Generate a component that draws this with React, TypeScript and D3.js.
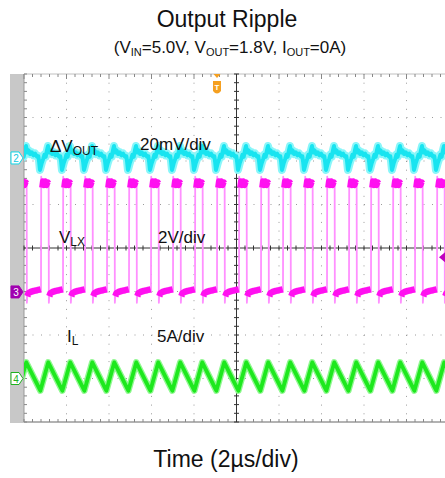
import React from "react";
import * as d3 from "d3";

// rising edges of the switch node (µs from left edge of screen)
const pulseStarts = [-0.235, 0.8, 1.835, 2.871, 3.906, 4.941, 5.976, 7.012, 8.047, 9.082,
  10.118, 11.153, 12.188, 13.224, 14.259, 15.294, 16.329, 17.365, 18.4, 19.435, 20.47];

// one switching period of each trace: [µs after rising edge, value]
const vlxShape = [
  [0.0, 0.0], [0.01, 5.3], [0.04, 4.8], [0.08, 5.1], [0.14, 4.9], [0.2, 5.1], [0.27, 4.9],
  [0.33, 5.05], [0.36, 5.0], [0.37, -0.5], [0.39, -0.2], [0.45, -0.05], [0.55, 0.0],
  [0.7, 0.05], [0.85, 0.08], [1.02, 0.12],
];
const voutShape = [
  [-0.05, -5.5], [0.03, -2.5], [0.1, -0.5], [0.16, 1.5], [0.22, 0.5], [0.28, 3.5], [0.33, 5.5],
  [0.38, 2.5], [0.45, 3.5], [0.52, 1.8], [0.6, 2.6], [0.68, 1.2], [0.76, 2.0], [0.84, 0.6],
  [0.91, 0.8], [0.95, -2.0],
];
const ilShape = [[-0.03, -1.4], [0.34, 1.85]];

const W = 445;
const left = 24, top = 74, bottom = 422;
const x = d3.scaleLinear().domain([0, 20]).range([left, left + 425]);
const yDiv = d3.scaleLinear().domain([-4, 4]).range([bottom, top]);

// channel offsets (div) and scales (units/div)
const ch2 = { off: 2.07, per: 20 };
const ch3 = { off: -1.01, per: 2 };
const ch4 = { off: -3.0, per: 5 };
const yOf = (ch: { off: number; per: number }) => (v: number) => yDiv(ch.off + v / ch.per);

const repeat = (shape: number[][], lo = -Infinity, hi = Infinity) =>
  pulseStarts.map((t0) => shape.filter(([dt]) => dt >= lo && dt <= hi).map(([dt, v]) => [t0 + dt, v]));

const majorX = d3.range(0, 11).map((i) => i * 2);
const majorY = d3.range(-4, 5);
const minorX = d3.range(0, 51).map((i) => i * 0.4);
const minorY = d3.range(0, 41).map((i) => -4 + i * 0.2);

export default function App() {
  const y2 = yOf(ch2), y3 = yOf(ch3), y4 = yOf(ch4);
  const line2 = d3.line<number[]>().x((d) => x(d[0])).y((d) => y2(d[1]));
  const line3 = d3.line<number[]>().x((d) => x(d[0])).y((d) => y3(d[1]));
  const line4 = d3.line<number[]>().x((d) => x(d[0])).y((d) => y4(d[1]));

  const voutPts = repeat(voutShape).flat();
  const ilPts = repeat(ilShape).flat();
  const vlxPts = repeat(vlxShape).flat();
  const vlxHigh = repeat(vlxShape, 0.03, 0.36);
  const vlxLow = repeat(vlxShape, 0.39, 1.02);

  const cx = x(10), cy = yDiv(0);
  const font = "Liberation Sans, Arial, sans-serif";
  const tx = x(9.082);

  const marker = (yy: number, fill: string, stroke: string, txt: string, tc: string) => (
    <g>
      <path d={`M11,${yy - 6}H19L23,${yy}L19,${yy + 6}H11Z`} fill={fill} stroke={stroke} strokeWidth={1} />
      <text x={16} y={yy + 4} fontSize={10} fill={tc} textAnchor="middle" fontFamily={font}>{txt}</text>
    </g>
  );

  return (
    <svg width={W} height={478} style={{ position: "absolute", left: 0, top: 0 }}>
      <rect width={W} height={478} fill="#fff" />
      <text x={227} y={27} fontSize={23} textAnchor="middle" fontFamily={font} fill="#111">Output Ripple</text>
      <text x={230} y={53} fontSize={17} textAnchor="middle" fontFamily={font} fill="#111">
        (V<tspan fontSize={11} dy={3}>IN</tspan><tspan dy={-3}>=5.0V, V</tspan>
        <tspan fontSize={11} dy={3}>OUT</tspan><tspan dy={-3}>=1.8V, I</tspan>
        <tspan fontSize={11} dy={3}>OUT</tspan><tspan dy={-3}>=0A)</tspan>
      </text>

      <defs>
        <clipPath id="plot"><rect x={left} y={top} width={W - left} height={bottom - top} /></clipPath>
      </defs>

      <rect x={10} y={top} width={left - 10} height={bottom - top + 1} fill="#c8c8c8" />

      {/* grid */}
      <g stroke="#9a9a9a" strokeWidth={1}>
        {majorX.filter((d) => d > 0 && d !== 10 && d < 20).map((d) => (
          <line key={"gx" + d} x1={x(d)} x2={x(d)} y1={top} y2={bottom} strokeDasharray="1 7.7" />
        ))}
        {majorY.filter((d) => d !== 0 && d !== -4 && d !== 4).map((d) => (
          <line key={"gy" + d} x1={left} x2={W} y1={yDiv(d)} y2={yDiv(d)} strokeDasharray="1 7.5" />
        ))}
      </g>
      <line x1={left} x2={W} y1={top} y2={top} stroke="#c0c0c0" />
      <line x1={left} x2={W} y1={bottom} y2={bottom} stroke="#666" />
      <line x1={left} x2={left} y1={top} y2={bottom} stroke="#999" />
      <g stroke="#888">
        {minorX.map((d) => (
          <line key={"tt" + d} x1={x(d)} x2={x(d)} y1={top} y2={top + (d % 2 === 0 ? 5 : 3)} />
        ))}
        {minorX.map((d) => (
          <line key={"tb" + d} x1={x(d)} x2={x(d)} y1={bottom} y2={bottom - 3} />
        ))}
        {minorY.map((d, i) => (
          <line key={"tl" + i} x1={left} x2={left + 3} y1={yDiv(d)} y2={yDiv(d)} />
        ))}
      </g>
      <g stroke="#333" strokeWidth={1}>
        <line x1={cx} x2={cx} y1={top} y2={bottom} />
        <line x1={left} x2={W} y1={cy} y2={cy} />
        {minorX.map((d) => (
          <line key={"cxh" + d} x1={x(d)} x2={x(d)} y1={cy - 2.5} y2={cy + 2.5} />
        ))}
        {minorY.map((d, i) => (
          <line key={"cyv" + i} x1={cx - 2.5} x2={cx + 2.5} y1={yDiv(d)} y2={yDiv(d)} />
        ))}
      </g>

      {/* traces */}
      <g clipPath="url(#plot)" fill="none" strokeLinejoin="round">
        <path d={line3(vlxPts) ?? ""} stroke="#ff90ff" strokeWidth={1.8} />
        {vlxHigh.map((s, i) => (
          <path key={"h" + i} d={line3(s) ?? ""} stroke="#ff10f0" strokeWidth={5.5} />
        ))}
        {vlxLow.map((s, i) => (
          <path key={"l" + i} d={line3(s) ?? ""} stroke="#ff10f0" strokeWidth={6.5} />
        ))}
        <path d={line2(voutPts) ?? ""} stroke="#8af6f9" strokeWidth={8} />
        <path d={line2(voutPts) ?? ""} stroke="#18e4f0" strokeWidth={4} />
        <path d={line4(ilPts) ?? ""} stroke="#90f890" strokeWidth={6.5} />
        <path d={line4(ilPts) ?? ""} stroke="#1ee81e" strokeWidth={3.8} />
      </g>

      {/* channel markers */}
      {marker(y2(0), "#fff", "#10d8e8", "2", "#10c8e0")}
      {marker(y3(0), "#a000b0", "#a000b0", "3", "#fff")}
      {marker(y4(0), "#fff", "#20b020", "4", "#20b020")}

      {/* trigger markers */}
      <path d={`M${tx - 3.5},${top}H${tx + 3.5}L${tx},${top + 4}Z`} fill="#f5a020" />
      <path d={`M${tx - 4},${top + 7}H${tx + 4}V${top + 17}Q${tx},${top + 22} ${tx - 4},${top + 17}Z`} fill="#f5a020" />
      <text x={tx} y={top + 16} fontSize={8} fill="#fff" textAnchor="middle" fontFamily={font} fontWeight="bold">T</text>
      <path d={`M445,${y3(1.6) - 5}V${y3(1.6) + 5}L439,${y3(1.6)}Z`} fill="#c000c0" />

      {/* labels */}
      <g fontFamily={font} fill="#111" fontSize={17}>
        <text x={50} y={152}>ΔV<tspan fontSize={12} dy={3}>OUT</tspan></text>
        <text x={140} y={150}>20mV/div</text>
        <text x={59} y={243}>V<tspan fontSize={12} dy={3}>LX</tspan></text>
        <text x={158} y={243}>2V/div</text>
        <text x={67} y={342}>I<tspan fontSize={12} dy={3}>L</tspan></text>
        <text x={157} y={342}>5A/div</text>
      </g>
      <text x={226} y={467} fontSize={23} textAnchor="middle" fontFamily={font} fill="#111">Time (2µs/div)</text>
    </svg>
  );
}
